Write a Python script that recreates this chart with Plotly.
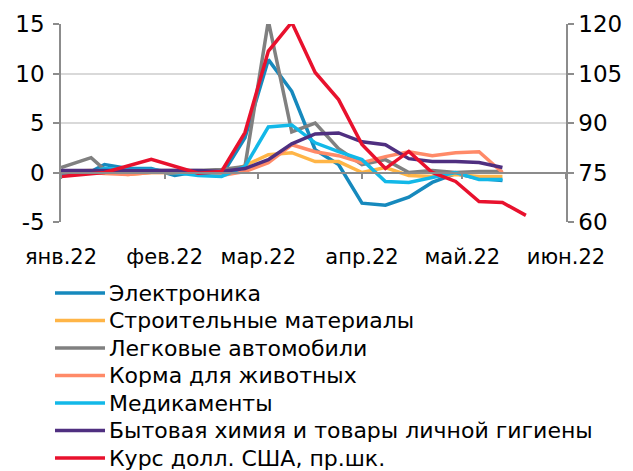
import plotly.graph_objects as go

# Weekly price changes by product group, % (left axis)
price_dates = [
    "2022-01-01", "2022-01-10", "2022-01-14", "2022-01-21", "2022-01-28",
    "2022-02-04", "2022-02-11", "2022-02-18", "2022-02-25", "2022-03-04",
    "2022-03-11", "2022-03-18", "2022-03-25", "2022-04-01", "2022-04-08",
    "2022-04-15", "2022-04-22", "2022-04-29", "2022-05-06", "2022-05-13",
]
electronics = [0.0, 0.1, 0.8, 0.4, 0.4, -0.3, 0.1, -0.3, 3.5, 11.4,
               8.2, 2.3, 0.8, -3.1, -3.3, -2.5, -1.0, -0.1, -0.6, -0.8]
building = [0.1, 0.2, 0.1, -0.2, 0.0, 0.0, 0.1, -0.2, 0.7, 1.8,
            2.0, 1.1, 1.1, 0.0, 0.5, -0.3, -0.4, -0.2, -0.4, -0.4]
cars = [0.5, 1.5, 0.3, 0.2, 0.2, 0.2, 0.2, 0.3, 0.6, 15.3,
        4.1, 5.0, 2.4, 0.8, 1.3, 0.0, 0.2, 0.0, 0.1, 0.1]
pet_food = [0.0, 0.0, -0.1, -0.2, 0.0, 0.0, -0.1, -0.3, 0.1, 1.0,
            2.8, 2.1, 1.7, 1.0, 1.6, 2.1, 1.7, 2.0, 2.1, 0.0]
medicines = [-0.2, 0.0, 0.4, 0.3, 0.3, 0.0, -0.3, -0.4, 0.6, 4.6,
             4.8, 3.0, 2.1, 1.3, -0.9, -1.0, -0.5, 0.0, -0.7, -0.7]
household = [0.2, 0.2, 0.2, 0.2, 0.2, 0.2, 0.2, 0.1, 0.4, 1.3,
             2.9, 3.9, 4.0, 3.1, 2.8, 1.4, 1.1, 1.1, 1.0, 0.5]

# USD/RUB exchange rate, roubles (right axis)
usd_dates = [
    "2022-01-01", "2022-01-14", "2022-01-28", "2022-02-11", "2022-02-18",
    "2022-02-25", "2022-03-04", "2022-03-11", "2022-03-18", "2022-03-25",
    "2022-04-01", "2022-04-08", "2022-04-15", "2022-04-22", "2022-04-29",
    "2022-05-06", "2022-05-13", "2022-05-20",
]
usd_rate = [73.8, 75.0, 79.0, 74.8, 75.3, 87.1, 111.8, 120.5, 105.3, 97.1,
            83.5, 76.2, 81.4, 75.0, 72.3, 66.2, 65.9, 62.0]

month_ticks = ["2022-01-01", "2022-02-01", "2022-03-01",
               "2022-04-01", "2022-05-01", "2022-06-01"]
month_labels = ["янв.22", "фев.22", "мар.22", "апр.22", "май.22", "июн.22"]
left_ticks = [-5, 0, 5, 10, 15]
left_labels = ["-5", "0", "5", "10", "15"]
right_ticks = [60, 75, 90, 105, 120]

series = [
    ("Электроника", electronics, "#1689BD"),
    ("Строительные материалы", building, "#FFB547"),
    ("Легковые автомобили", cars, "#808080"),
    ("Корма для животных", pet_food, "#FF8A68"),
    ("Медикаменты", medicines, "#12B8E8"),
    ("Бытовая химия и товары личной гигиены", household, "#4F2F80"),
]
usd_name, usd_color = "Курс долл. США, пр.шк.", "#E8112D"

FONT = "DejaVu Sans, Liberation Sans, sans-serif"
AXIS_GREY = "#8C8C8C"
LINE_W = 3.5

W, H = 633, 471
m_l, m_r, m_t, m_b = 61, 67, 24, 249
plot_w = W - m_l - m_r
plot_h = H - m_t - m_b

fig = go.Figure()
for name, values, color in series:
    fig.add_trace(go.Scatter(
        x=price_dates, y=values, name=name, mode="lines",
        line=dict(color=color, width=LINE_W), yaxis="y",
    ))
fig.add_trace(go.Scatter(
    x=usd_dates, y=usd_rate, name=usd_name, mode="lines",
    line=dict(color=usd_color, width=LINE_W), yaxis="y2",
))

# Legend below the plot: a short line sample and the series name per row
legend_rows = [(n, c) for n, _, c in series] + [(usd_name, usd_color)]
row_top_px, row_step_px = 293, 27.5
line_x0_px, line_x1_px, text_x_px = 55, 105, 107


def px_to_paper_x(px):
    return (px - m_l) / plot_w


def px_to_paper_y(py):
    return (H - m_b - py) / plot_h


shapes, annotations = [], []
for i, (name, color) in enumerate(legend_rows):
    yp = px_to_paper_y(row_top_px + i * row_step_px)
    shapes.append(dict(
        type="line", xref="paper", yref="paper",
        x0=px_to_paper_x(line_x0_px), x1=px_to_paper_x(line_x1_px),
        y0=yp, y1=yp, line=dict(color=color, width=LINE_W),
    ))
    annotations.append(dict(
        xref="paper", yref="paper", x=px_to_paper_x(text_x_px), y=yp,
        xanchor="left", yanchor="middle", text=name, showarrow=False,
        font=dict(family=FONT, size=22, color="#000000"),
    ))

fig.update_layout(
    width=W, height=H,
    margin=dict(l=m_l, r=m_r, t=m_t, b=m_b, pad=0, autoexpand=False),
    paper_bgcolor="white", plot_bgcolor="white",
    font=dict(family=FONT, size=21, color="#000000"),
    showlegend=False,
    shapes=shapes, annotations=annotations,
    xaxis=dict(
        type="date", range=["2022-01-01", "2022-06-01"],
        tickvals=month_ticks, ticktext=month_labels,
        anchor="free", position=0.25,
        showline=True, linecolor=AXIS_GREY, linewidth=1.5,
        ticks="outside", ticklen=6, tickcolor=AXIS_GREY, tickwidth=1.5,
        ticklabelstandoff=60,
        showgrid=False, zeroline=False,
        tickfont=dict(family=FONT, size=21),
    ),
    yaxis=dict(
        range=[-5, 15], tickvals=left_ticks, ticktext=left_labels,
        showline=True, linecolor=AXIS_GREY, linewidth=1.5,
        ticks="outside", ticklen=6, tickcolor=AXIS_GREY, tickwidth=1.5,
        showgrid=True, gridcolor="#D9D9D9", gridwidth=1.5,
        zeroline=False, tickfont=dict(family=FONT, size=23),
        ticklabelstandoff=4,
    ),
    yaxis2=dict(
        range=[60, 120], tickvals=right_ticks,
        overlaying="y", side="right", anchor="x",
        showline=True, linecolor=AXIS_GREY, linewidth=1.5,
        ticks="outside", ticklen=6, tickcolor=AXIS_GREY, tickwidth=1.5,
        showgrid=False, zeroline=False, tickfont=dict(family=FONT, size=23),
    ),
)

fig.write_html("out.html")
